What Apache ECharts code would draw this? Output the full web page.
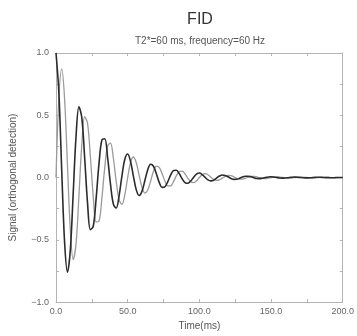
<!DOCTYPE html>
<html>
<head>
<meta charset="utf-8">
<script src="https://cdn.jsdelivr.net/npm/echarts@6/dist/echarts.min.js"></script>
<style>html,body{margin:0;padding:0;background:#fff;}#c{width:357px;height:336px;}</style>
</head>
<body>
<div id="c"></div>
<script>
// Time (ms), sampled every 2 ms
const time = [0,2,4,6,8,10,12,14,16,18,20,22,24,26,28,30,32,34,36,38,40,42,44,46,48,50,52,54,56,58,60,62,64,66,68,70,72,74,76,78,80,82,84,86,88,90,92,94,96,98,100,102,104,106,108,110,112,114,116,118,120,122,124,126,128,130,132,134,136,138,140,142,144,146,148,150,152,154,156,158,160,162,164,166,168,170,172,174,176,178,180,182,184,186,188,190,192,194,196,198,200];
// Dark curve (real part)
const signalReal = [1.000,0.682,0.055,-0.522,-0.760,-0.580,-0.126,0.336,0.568,0.481,0.159,-0.205,-0.418,-0.391,-0.167,0.114,0.302,0.312,0.161,-0.053,-0.213,-0.245,-0.147,0.014,0.147,0.189,0.129,0.010,-0.099,-0.144,-0.109,-0.024,0.063,0.107,0.091,0.030,-0.039,-0.079,-0.074,-0.032,0.021,0.057,0.059,0.030,-0.010,-0.040,-0.046,-0.028,0.003,0.028,0.036,0.024,0.002,-0.019,-0.027,-0.021,-0.004,0.012,0.020,0.017,0.006,-0.007,-0.015,-0.014,-0.006,0.004,0.011,0.011,0.006,-0.002,-0.008,-0.009,-0.005,0.000,0.005,0.007,0.005,0.000,-0.004,-0.005,-0.004,-0.001,0.002,0.004,0.003,0.001,-0.001,-0.003,-0.003,-0.001,0.001,0.002,0.002,0.001,-0.001,-0.001,-0.002,-0.001,0.000,0.001,0.001];
// Light curve (imaginary part)
const signalImag = [0.000,0.640,0.873,0.631,0.096,-0.421,-0.658,-0.529,-0.146,0.264,0.488,0.435,0.165,-0.155,-0.356,-0.350,-0.166,0.080,0.254,0.277,0.155,-0.031,-0.178,-0.215,-0.138,0.000,0.121,0.165,0.119,0.018,-0.080,-0.124,-0.100,-0.028,0.050,0.092,0.082,0.031,-0.029,-0.067,-0.066,-0.031,0.015,0.048,0.052,0.029,-0.006,-0.034,-0.041,-0.026,0.000,0.023,0.031,0.022,0.003,-0.015,-0.023,-0.019,-0.005,0.009,0.017,0.015,0.006,-0.006,-0.013,-0.012,-0.006,0.003,0.009,0.010,0.006,-0.001,-0.006,-0.008,-0.005,0.000,0.004,0.006,0.004,0.001,-0.003,-0.004,-0.004,-0.001,0.002,0.003,0.003,0.001,-0.001,-0.002,-0.002,-0.001,0.001,0.002,0.002,0.001,0.000,-0.001,-0.001,-0.001,0.000];
const xTicks = [0, 200, 50];
const yTicks = [-1, 1, 0.5];
const titleText = 'FID';
const subtitleText = 'T2*=60 ms, frequency=60 Hz';
const xName = 'Time(ms)';
const yName = 'Signal (orthogonal detection)';

const FONT = '"Liberation Sans", Arial, sans-serif';
const axisGrey = '#b4b4b4';
const labelGrey = '#666';

function fmt(v){ const s = v.toFixed(1); return s.replace('-', '\u2212'); }

const lineCommon = { show: true, onZero: false, lineStyle: { color: axisGrey, width: 1 } };
const tickCommon = { show: true, inside: true, length: 3, lineStyle: { color: axisGrey } };
const minorCommon = { show: true, splitNumber: 2, length: 3, lineStyle: { color: axisGrey } };

const chart = echarts.init(document.getElementById('c'), null, { renderer: 'canvas' });
chart.setOption({
  animation: false,
  backgroundColor: '#fff',
  title: [
    { text: titleText, left: 200, top: 12, padding: 0, textAlign: 'center',
      textStyle: { fontFamily: FONT, fontSize: 16, fontWeight: 'normal', color: '#333' } },
    { text: subtitleText, left: 200, top: 36, padding: 0, textAlign: 'center',
      textStyle: { fontFamily: FONT, fontSize: 10, fontWeight: 'normal', color: '#555' } }
  ],
  grid: { left: 56, right: 13, top: 53, bottom: 31, containLabel: false },
  xAxis: [
    { type: 'value', min: xTicks[0], max: xTicks[1], interval: xTicks[2], position: 'bottom',
      name: xName, nameLocation: 'middle', nameGap: 14,
      nameTextStyle: { fontFamily: FONT, fontSize: 10, color: '#555' },
      axisLine: lineCommon, axisTick: tickCommon, minorTick: minorCommon,
      axisLabel: { fontFamily: FONT, fontSize: 9, color: labelGrey, margin: 5, formatter: fmt },
      splitLine: { show: false }, minorSplitLine: { show: false } },
    { type: 'value', min: xTicks[0], max: xTicks[1], interval: xTicks[2], position: 'top',
      axisLine: lineCommon, axisTick: tickCommon, minorTick: minorCommon,
      axisLabel: { show: false }, splitLine: { show: false }, minorSplitLine: { show: false } }
  ],
  yAxis: [
    { type: 'value', min: yTicks[0], max: yTicks[1], interval: yTicks[2], position: 'left',
      name: yName, nameLocation: 'middle', nameGap: 38, nameRotate: 90,
      nameTextStyle: { fontFamily: FONT, fontSize: 10, color: '#555' },
      axisLine: lineCommon, axisTick: tickCommon, minorTick: minorCommon,
      axisLabel: { fontFamily: FONT, fontSize: 9, color: labelGrey, margin: 7, formatter: fmt },
      splitLine: { show: false }, minorSplitLine: { show: false } },
    { type: 'value', min: yTicks[0], max: yTicks[1], interval: yTicks[2], position: 'right',
      axisLine: lineCommon, axisTick: tickCommon, minorTick: minorCommon,
      axisLabel: { show: false }, splitLine: { show: false }, minorSplitLine: { show: false } }
  ],
  series: [
    { type: 'line', name: 'imag', data: time.map((t, i) => [t, signalImag[i]]),
      smooth: 0.35, showSymbol: false, lineStyle: { color: '#9a9a9a', width: 1.3 }, z: 2 },
    { type: 'line', name: 'real', data: time.map((t, i) => [t, signalReal[i]]),
      smooth: 0.35, showSymbol: false, lineStyle: { color: '#2b2b2b', width: 1.6 }, z: 3 }
  ]
});
</script>
</body>
</html>
